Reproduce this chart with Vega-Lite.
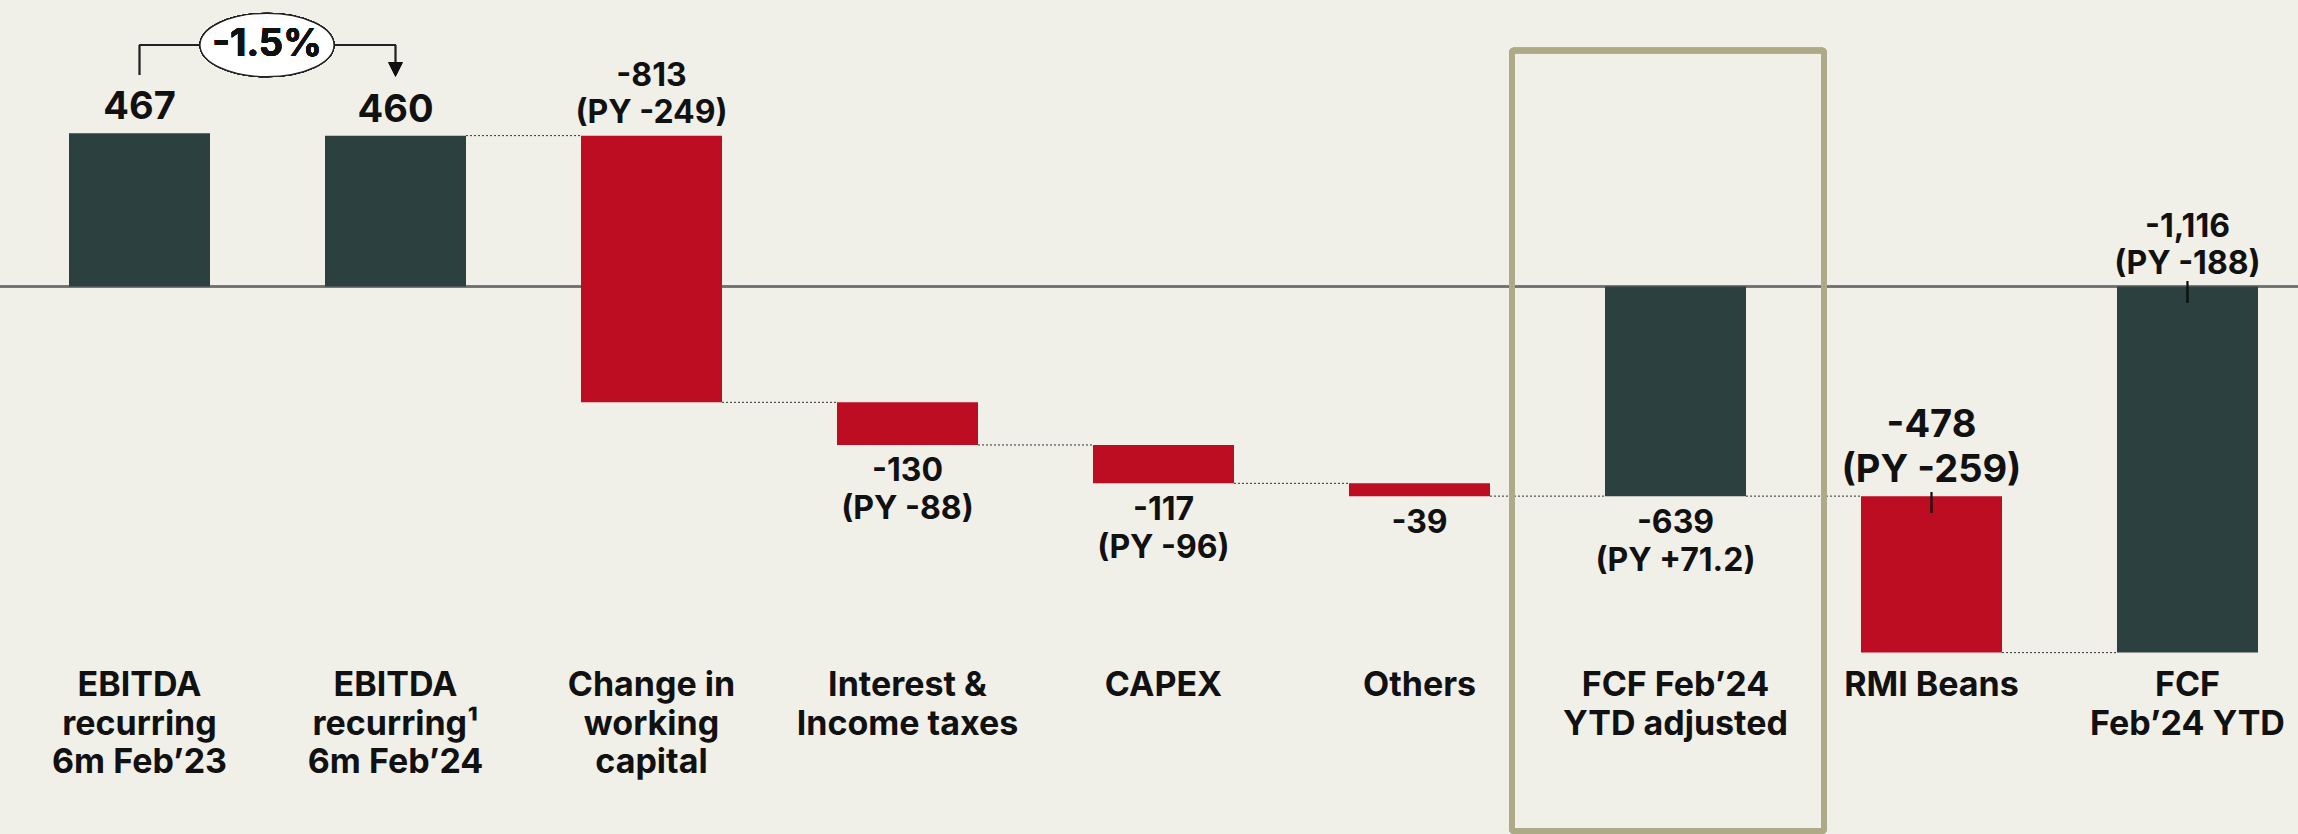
{
  "$schema": "https://vega.github.io/schema/vega-lite/v6.json",
  "width": 2298,
  "height": 834,
  "autosize": "none",
  "padding": 0,
  "background": "#f0efe8",
  "config": {"view": {"stroke": null}, "font": "Inter", "text": {"font": "Inter"}},
  "data": {
    "values": [
      {"k": "c1", "label": "EBITDA\nrecurring\n6m Feb’23", "start": 0, "end": 467, "type": "total", "value": "467"},
      {"k": "c2", "label": "EBITDA\nrecurring¹\n6m Feb’24", "start": 0, "end": 460, "type": "total", "value": "460", "next": "c3"},
      {"k": "c3", "label": "Change in\nworking\ncapital", "start": 460, "end": -353, "type": "neg", "value": "-813\n(PY -249)", "next": "c4"},
      {"k": "c4", "label": "Interest &\nIncome taxes", "start": -353, "end": -483, "type": "neg", "value": "-130\n(PY -88)", "next": "c5"},
      {"k": "c5", "label": "CAPEX", "start": -483, "end": -600, "type": "neg", "value": "-117\n(PY -96)", "next": "c6"},
      {"k": "c6", "label": "Others", "start": -600, "end": -639, "type": "neg", "value": "-39", "next": "c7"},
      {"k": "c7", "label": "FCF Feb’24\nYTD adjusted", "start": 0, "end": -639, "type": "total", "value": "-639\n(PY +71.2)", "next": "c8"},
      {"k": "c8", "label": "RMI Beans", "start": -639, "end": -1116, "type": "neg", "value": "-478\n(PY -259)", "next": "c9"},
      {"k": "c9", "label": "FCF\nFeb’24 YTD", "start": 0, "end": -1116, "type": "total", "value": "-1,116\n(PY -188)"}
    ]
  },
  "layer": [
    {
      "mark": {"type": "rule", "color": "#6f6f6f", "strokeWidth": 1.5},
      "encoding": {
        "y": {"datum": 0, "type": "quantitative", "scale": {"domain": [-1669, 873.5], "nice": false, "zero": false}, "axis": null}
      }
    },
    {
      "transform": [{"filter": "isValid(datum.next)"}],
      "mark": {"type": "rule", "color": "#333333", "strokeWidth": 1, "strokeDash": [2, 2]},
      "encoding": {
        "x": {"field": "k", "type": "nominal", "bandPosition": 1, "axis": null,
              "scale": {"type": "band", "domain": ["c1","c2","c3","c4","c5","c6","c7","c8","c9"], "paddingInner": 0.4492, "paddingOuter": 0.2129, "align": 0.633, "round": false}},
        "x2": {"field": "next", "bandPosition": 0},
        "y": {"field": "end", "type": "quantitative", "axis": null}
      }
    },
    {
      "mark": {"type": "bar"},
      "encoding": {
        "x": {"field": "k", "type": "nominal", "axis": null},
        "y": {"field": "start", "type": "quantitative", "axis": null},
        "y2": {"field": "end"},
        "color": {"field": "type", "type": "nominal", "legend": null,
                  "scale": {"domain": ["total", "neg"], "range": ["#2b403f", "#bc0d23"]}}
      }
    },
    {
      "mark": {"type": "bar", "fillOpacity": 0, "stroke": "#aeaa88", "strokeWidth": 5.7, "width": {"band": 2.213}, "xOffset": -7.5, "cornerRadius": 2},
      "encoding": {
        "x": {"datum": "c7", "type": "nominal", "axis": null},
        "y": {"datum": 719.5, "type": "quantitative", "axis": null},
        "y2": {"datum": -1660}
      }
    },
    {
      "mark": {"type": "rule", "color": "#111111", "strokeWidth": 1.2},
      "encoding": {
        "x": {"datum": "c8", "type": "nominal", "axis": null},
        "y": {"datum": -626.5, "type": "quantitative", "axis": null},
        "y2": {"datum": -690.5}
      }
    },
    {
      "mark": {"type": "rule", "color": "#111111", "strokeWidth": 1.2},
      "encoding": {
        "x": {"datum": "c9", "type": "nominal", "axis": null},
        "y": {"datum": 16.8, "type": "quantitative", "axis": null},
        "y2": {"datum": -50.3}
      }
    },
    {
      "transform": [{"filter": "indexof(['c1','c2'], datum.k) >= 0"}],
      "mark": {"type": "text", "fontSize": 38, "fontWeight": "bold", "color": "#111111", "baseline": "bottom", "dy": -6, "lineBreak": "\n"},
      "encoding": {
        "x": {"field": "k", "type": "nominal", "axis": null},
        "y": {"field": "end", "type": "quantitative", "axis": null},
        "text": {"field": "value"}
      }
    },
    {
      "transform": [{"filter": "indexof(['c3','c9'], datum.k) >= 0"}],
      "mark": {"type": "text", "fontSize": 32, "fontWeight": "bold", "color": "#111111", "baseline": "bottom", "dy": -43, "lineHeight": 37, "lineBreak": "\n"},
      "encoding": {
        "x": {"field": "k", "type": "nominal", "axis": null},
        "y": {"field": "start", "type": "quantitative", "axis": null},
        "text": {"field": "value"}
      }
    },
    {
      "transform": [{"filter": "datum.k == 'c8'"}],
      "mark": {"type": "text", "fontSize": 38, "fontWeight": "bold", "color": "#111111", "baseline": "bottom", "dy": -51, "lineHeight": 45, "lineBreak": "\n"},
      "encoding": {
        "x": {"field": "k", "type": "nominal", "axis": null},
        "y": {"field": "start", "type": "quantitative", "axis": null},
        "text": {"field": "value"}
      }
    },
    {
      "transform": [{"filter": "indexof(['c4','c5','c6','c7'], datum.k) >= 0"}],
      "mark": {"type": "text", "fontSize": 32, "fontWeight": "bold", "color": "#111111", "baseline": "top", "dy": 11.5, "lineHeight": 38, "lineBreak": "\n"},
      "encoding": {
        "x": {"field": "k", "type": "nominal", "axis": null},
        "y": {"field": "end", "type": "quantitative", "axis": null},
        "text": {"field": "value"}
      }
    },
    {
      "mark": {"type": "text", "fontSize": 34, "fontWeight": "bold", "color": "#111111", "baseline": "alphabetic", "lineHeight": 38.5, "lineBreak": "\n"},
      "encoding": {
        "x": {"field": "k", "type": "nominal", "axis": null},
        "y": {"datum": -1248.5, "type": "quantitative", "axis": null},
        "text": {"field": "label"}
      }
    },
    {
      "mark": {"type": "rule", "color": "#222222", "strokeWidth": 1.2},
      "encoding": {
        "x": {"datum": "c1", "type": "nominal", "axis": null},
        "y": {"datum": 644.8, "type": "quantitative", "axis": null},
        "y2": {"datum": 736.3}
      }
    },
    {
      "mark": {"type": "rule", "color": "#222222", "strokeWidth": 1.2},
      "encoding": {
        "x": {"datum": "c1", "type": "nominal", "axis": null},
        "x2": {"datum": "c2"},
        "y": {"datum": 736.3, "type": "quantitative", "axis": null}
      }
    },
    {
      "mark": {"type": "rule", "color": "#222222", "strokeWidth": 1.2},
      "encoding": {
        "x": {"datum": "c2", "type": "nominal", "axis": null},
        "y": {"datum": 736.3, "type": "quantitative", "axis": null},
        "y2": {"datum": 680}
      }
    },
    {
      "mark": {"type": "point", "filled": true, "color": "#111111", "opacity": 1, "size": 196, "strokeWidth": 0, "shape": "M-1,-1L1,-1L0,1Z"},
      "encoding": {
        "x": {"datum": "c2", "type": "nominal", "axis": null},
        "y": {"datum": 661.6, "type": "quantitative", "axis": null}
      }
    },
    {
      "mark": {"type": "point", "filled": true, "fill": "#ffffff", "fillOpacity": 1, "stroke": "#222222", "strokeWidth": 1.2, "opacity": 1, "size": 17956, "xOffset": 127.5,
               "shape": "M-1,0C-1,-0.2612,-0.5523,-0.473,0,-0.473C0.5523,-0.473,1,-0.2612,1,0C1,0.2612,0.5523,0.473,0,0.473C-0.5523,0.473,-1,0.2612,-1,0Z"},
      "encoding": {
        "x": {"datum": "c1", "type": "nominal", "axis": null},
        "y": {"datum": 736.3, "type": "quantitative", "axis": null}
      }
    },
    {
      "mark": {"type": "text", "fontSize": 38, "fontWeight": "bold", "color": "#111111", "baseline": "middle", "xOffset": 127.5, "text": "-1.5%"},
      "encoding": {
        "x": {"datum": "c1", "type": "nominal", "axis": null},
        "y": {"datum": 736.3, "type": "quantitative", "axis": null}
      }
    }
  ]
}
